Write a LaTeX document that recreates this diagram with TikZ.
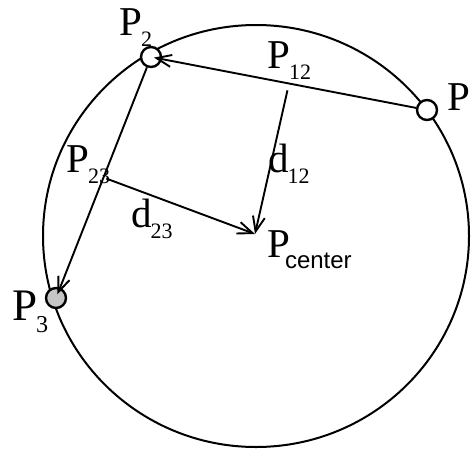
\documentclass[tikz,border=0pt]{standalone}
\usepackage{fontspec}
\setmainfont{Liberation Serif}
\newfontfamily\subsans{Liberation Sans}
\usepackage{tikz}
\usetikzlibrary{arrows.meta,positioning,calc}

\newcommand{\sublab}[2]{#1\kern-1pt\raisebox{-11pt}{\fontsize{22}{22}\selectfont #2}}

\begin{document}
\begin{tikzpicture}[x=1pt, y=-1pt,
  pnt/.style={circle,draw,line width=2.4pt,fill=white,minimum size=20pt,inner sep=0pt},
  vec/.style={-{Straight Barb[length=15pt,width=12pt,line width=1.9pt]},line width=1.9pt},
  lbl/.style={font=\fontsize{41}{43}\selectfont,inner sep=0pt,anchor=base west}]
  \useasboundingbox (0,0) rectangle (473,450);

  \draw[line width=2pt] (256,236) ellipse[x radius=213pt, y radius=211pt];

  \node[pnt] (p1) at (427,110) {};
  \node[pnt] (p2) at (151,57) {};
  \node[pnt,fill=gray!45] (p3) at (56,298) {};
  \coordinate (pc) at (255,234);
  \coordinate (p12) at ($(p1)!0.5!(p2)$);
  \coordinate (p23) at ($(p2)!0.5!(p3)$);

  \draw[vec,shorten >=3pt] (p1) -- (p2.center);
  \draw[vec,shorten >=4pt] (p2) -- (p3.center);
  \draw[vec,shorten <=7pt] (p12) -- (pc);
  \draw[vec,shorten <=3pt] (p23) -- (pc);

  \node[lbl] (l1) at (447,110) {P};
  \node[lbl] (l2) at (119,35) {\sublab{P}{2}};
  \node[lbl,scale=1.1] (l3) at (12,320) {\sublab{P}{3}};
  \node[lbl] (l12) at (267,68) {\sublab{P}{12}};
  \node[lbl] (l23) at (66,172) {\sublab{P}{23}};
  \node[lbl] (ld12) at (268,172) {\sublab{d}{12}};
  \node[lbl] (ld23) at (131,227) {\sublab{d}{23}};
  \node[lbl] (lc) at (267,257) {P\kern-5pt\raisebox{-11pt}{\fontsize{24}{24}\subsans center}};
\end{tikzpicture}
\end{document}
